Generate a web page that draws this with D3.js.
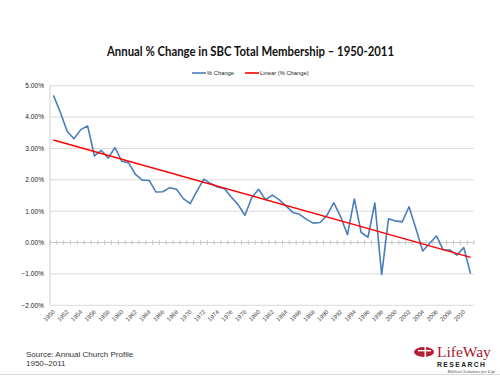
<!DOCTYPE html>
<html><head><meta charset="utf-8">
<script src="https://cdn.jsdelivr.net/npm/d3@7/dist/d3.min.js"></script>
<style>html,body{margin:0;padding:0;background:#fff;}svg{display:block;}</style>
</head><body>
<svg id="c" width="500" height="376"></svg>
<script>
const years = d3.range(1950, 2012);
const pctChange = [4.69,4.16,3.55,3.31,3.60,3.72,2.76,2.94,2.69,3.03,
  2.59,2.54,2.17,1.99,1.98,1.61,1.62,1.75,1.70,1.40,
  1.24,1.65,2.02,1.88,1.77,1.72,1.45,1.21,0.87,1.43,
  1.70,1.37,1.51,1.37,1.17,0.96,0.90,0.74,0.62,0.64,
  0.87,1.27,0.82,0.25,1.39,0.32,0.17,1.26,-1.02,0.76,
  0.69,0.66,1.14,0.45,-0.27,-0.03,0.21,-0.23,-0.24,-0.40,
  -0.16,-0.99];
const trendEnds = [3.27, -0.47];
const yTicks = [5,4,3,2,1,0,-1,-2];
const title = "Annual % Change in SBC Total Membership \u2013 1950-2011";
const seriesNames = ["% Change", "Linear (% Change)"];

const svg = d3.select("#c");
const pL = 50, pR = 474, pT = 85.7, pB = 305.3;
const x = d3.scaleBand().domain(years).range([pL, pR]).padding(0);
const y = d3.scaleLinear().domain([-2, 5]).range([pB, pT]);
const cx = d => x(d) + x.bandwidth() / 2;

// gridlines
svg.append("g").selectAll("line").data(yTicks.filter(t => t !== 0)).join("line")
  .attr("x1", pL).attr("x2", pR).attr("y1", d => y(d)).attr("y2", d => y(d))
  .attr("stroke", "#d9d9d9").attr("stroke-width", 1);

// y axis line
svg.append("line").attr("x1", pL).attr("x2", pL).attr("y1", pT).attr("y2", pB)
  .attr("stroke", "#d0d0d0").attr("stroke-width", 1);

// y labels
svg.append("g").selectAll("text").data(yTicks).join("text")
  .attr("x", 44).attr("y", d => y(d) + 2.4).attr("text-anchor", "end")
  .attr("font-family", "Liberation Sans, Arial, sans-serif").attr("font-size", 6.6)
  .attr("fill", "#222").text(d => d3.format(".2f")(d) + "%");

// zero axis with ticks
const y0 = y(0);
svg.append("line").attr("x1", pL).attr("x2", pR).attr("y1", y0).attr("y2", y0)
  .attr("stroke", "#c8c8c8").attr("stroke-width", 1);
svg.append("g").selectAll("line").data(years.map(d => x(d)).concat([pR])).join("line")
  .attr("x1", d => d).attr("x2", d => d).attr("y1", y0 - 2.5).attr("y2", y0 + 2.5)
  .attr("stroke", "#c0c0c0").attr("stroke-width", 0.8);

// x labels
svg.append("g").selectAll("text").data(years.filter(d => d % 2 === 0)).join("text")
  .attr("transform", d => `translate(${cx(d) + 2},${pB + 7}) rotate(-45)`)
  .attr("text-anchor", "end")
  .attr("font-family", "Liberation Sans, Arial, sans-serif").attr("font-size", 6)
  .attr("fill", "#444").text(d => d);

// series line
const line = d3.line().x((d, i) => cx(years[i])).y(d => y(d));
svg.append("path").datum(pctChange).attr("d", line)
  .attr("fill", "none").attr("stroke", "#4a7ebb").attr("stroke-width", 1.6)
  .attr("stroke-linejoin", "round");

// trendline
svg.append("line")
  .attr("x1", cx(years[0])).attr("y1", y(trendEnds[0]))
  .attr("x2", cx(years[years.length - 1])).attr("y2", y(trendEnds[1]))
  .attr("stroke", "#ff0000").attr("stroke-width", 1.4);

// title
svg.append("text").attr("x", 107).attr("y", 56)
  .attr("font-family", "Lato, sans-serif").attr("font-weight", "bold")
  .attr("font-size", 13).attr("fill", "#111")
  .attr("textLength", 287).attr("lengthAdjust", "spacingAndGlyphs").text(title);

// legend
const leg = svg.append("g").attr("font-family", "Liberation Sans, Arial, sans-serif")
  .attr("font-size", 5.8).attr("fill", "#222");
const legItems = [{name: seriesNames[0], color: "#4a7ebb", x: 192}, {name: seriesNames[1], color: "#ff0000", x: 245}];
legItems.forEach(it => {
  leg.append("line").attr("x1", it.x).attr("x2", it.x + 14).attr("y1", 73).attr("y2", 73)
    .attr("stroke", it.color).attr("stroke-width", 1.6);
  leg.append("text").attr("x", it.x + 15).attr("y", 75).text(it.name);
});

// source
const src = svg.append("g").attr("font-family", "Liberation Sans, Arial, sans-serif")
  .attr("font-size", 8).attr("fill", "#333");
src.append("text").attr("x", 26).attr("y", 357).text("Source: Annual Church Profile");
src.append("text").attr("x", 26).attr("y", 365.5).text("1950\u20132011");

// bottom rule
svg.append("line").attr("x1", 0).attr("x2", 500).attr("y1", 374.5).attr("y2", 374.5)
  .attr("stroke", "#d8d8d8").attr("stroke-width", 1);

// logo
const logo = svg.append("g");
logo.append("ellipse").attr("cx", 424).attr("cy", 352).attr("rx", 10).attr("ry", 5)
  .attr("fill", "#b3202f");
logo.append("rect").attr("x", 424.5).attr("y", 346).attr("width", 1.6).attr("height", 12).attr("fill", "#fff");
logo.append("rect").attr("x", 418).attr("y", 350).attr("width", 13).attr("height", 1.4).attr("fill", "#fff");
logo.append("text").attr("x", 437).attr("y", 356.5).attr("font-family", "Liberation Serif, serif")
  .attr("font-size", 15.5).attr("fill", "#a3182b").text("LifeWay");
logo.append("text").attr("x", 437).attr("y", 366.8).attr("font-family", "Liberation Sans, sans-serif")
  .attr("font-weight", "bold").attr("font-size", 6.8)
  .attr("textLength", 48).attr("lengthAdjust", "spacing")
  .attr("fill", "#222").text("RESEARCH");
logo.append("text").attr("x", 495).attr("y", 373).attr("text-anchor", "end")
  .attr("font-family", "Liberation Serif, serif").attr("font-style", "italic")
  .attr("font-size", 4.6).attr("fill", "#444").text("Biblical Solutions for Life");
</script>
</body></html>
